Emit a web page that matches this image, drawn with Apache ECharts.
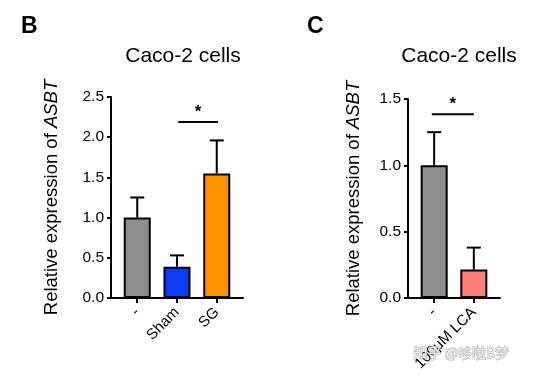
<!DOCTYPE html>
<html>
<head>
<meta charset="utf-8">
<script src="https://cdn.jsdelivr.net/npm/echarts@6/dist/echarts.min.js"></script>
<style>
  html, body { margin: 0; padding: 0; background: #fff; }
  #chart { width: 541px; height: 376px; }
</style>
</head>
<body>
<div id="chart"></div>
<script>
// panel B
const catsB = ['-', 'Sham', 'SG'];
const meanB = [1.0, 0.39, 1.55];
const errB = [0.25, 0.14, 0.41];
const sigB = [1.03, 2.03, 2.19]; // from, to, height
const ticksB = [0, 0.5, 1.0, 1.5, 2.0, 2.5];

// panel C
const catsC = ['-', '100μM LCA'];
const meanC = [1.0, 0.215];
const errC = [0.25, 0.165];
const sigC = [-0.06, 1.0, 1.385];
const ticksC = [0, 0.5, 1.0, 1.5];

const colorsB = ['#8e8e8e', '#0a3cf5', '#ff9300'];
const colorsC = ['#8e8e8e', '#ff7e79'];

const FONT = 'Liberation Sans';
const chart = echarts.init(document.getElementById('chart'), null, { renderer: 'canvas' });

function errRender(params, api) {
    const x = api.value(0), m = api.value(1), e = api.value(2);
    const base = api.coord([x, m]);
    const top = api.coord([x, m + e]);
    const style = { stroke: '#000', lineWidth: 2 };
    return {
        type: 'group',
        children: [
            { type: 'line', shape: { x1: base[0], y1: base[1], x2: top[0], y2: top[1] }, style },
            { type: 'line', shape: { x1: top[0] - 7, y1: top[1], x2: top[0] + 7, y2: top[1] }, style }
        ]
    };
}

function sigRender(params, api) {
    const a = api.coord([api.value(0), api.value(2)]);
    const b = api.coord([api.value(1), api.value(2)]);
    return {
        type: 'group',
        children: [
            { type: 'line', shape: { x1: a[0], y1: a[1], x2: b[0], y2: b[1] }, style: { stroke: '#000', lineWidth: 2 } },
            { type: 'text', x: (a[0] + b[0]) / 2, y: a[1] - 1,
              style: { text: '*', fontSize: 17, fontWeight: 'bold', fontFamily: FONT, fill: '#000', align: 'center', verticalAlign: 'bottom' } }
        ]
    };
}

function xAxisFor(idx, cats, max) {
    return {
        gridIndex: idx,
        type: 'value',
        min: -0.66,
        max: max,
        splitLine: { show: false },
        axisLine: { onZero: false, lineStyle: { color: '#000', width: 2 } },
        axisTick: { customValues: cats.map((c, i) => i), length: 5, lineStyle: { color: '#000', width: 2 } },
        axisLabel: {
            customValues: cats.map((c, i) => i),
            formatter: v => cats[Math.round(v)],
            rotate: 45, margin: 12,
            color: '#000', fontSize: 15, fontFamily: FONT
        }
    };
}

function yAxisFor(idx, ticks, gap) {
    return {
        gridIndex: idx,
        type: 'value',
        min: 0,
        max: ticks[ticks.length - 1],
        interval: 0.5,
        splitLine: { show: false },
        axisLine: { show: true, onZero: false, lineStyle: { color: '#000', width: 2 } },
        axisTick: { show: true, length: 4, lineStyle: { color: '#000', width: 2 } },
        axisLabel: { formatter: v => v.toFixed(1), color: '#000', fontSize: 15.5, fontFamily: FONT, margin: 7 },
        name: 'Relative expression of {i|ASBT}',
        nameLocation: 'middle',
        nameRotate: 90,
        nameGap: gap,
        nameTextStyle: {
            color: '#000', fontSize: 18.5, fontFamily: FONT,
            rich: { i: { fontStyle: 'italic', fontSize: 18.5, fontFamily: FONT, color: '#000' } }
        }
    };
}

const option = {
    animation: false,
    title: [
        { text: 'B', left: 16, top: 10, textStyle: { fontSize: 23, fontWeight: 'bold', fontFamily: FONT, color: '#000' } },
        { text: 'C', left: 302, top: 10, textStyle: { fontSize: 23, fontWeight: 'bold', fontFamily: FONT, color: '#000' } },
        { text: 'Caco-2 cells', left: 178, top: 41, textAlign: 'center', textStyle: { fontSize: 21, fontWeight: 'normal', fontFamily: FONT, color: '#000' } },
        { text: 'Caco-2 cells', left: 454, top: 41, textAlign: 'center', textStyle: { fontSize: 21, fontWeight: 'normal', fontFamily: FONT, color: '#000' } }
    ],
    grid: [
        { left: 111, top: 97, width: 132, height: 201 },
        { left: 408, top: 99, width: 92, height: 199 }
    ],
    xAxis: [xAxisFor(0, catsB, 2.66), xAxisFor(1, catsC, 1.66)],
    yAxis: [yAxisFor(0, ticksB, 50), yAxisFor(1, ticksC, 45)],
    series: [
        {
            type: 'bar', xAxisIndex: 0, yAxisIndex: 0, barWidth: 27,
            data: meanB.map((v, i) => ({ value: [i, v], itemStyle: { color: colorsB[i] } })),
            itemStyle: { borderColor: '#000', borderWidth: 2 }
        },
        {
            type: 'custom', xAxisIndex: 0, yAxisIndex: 0, renderItem: errRender,
            data: meanB.map((v, i) => [i, v, errB[i]]), z: 1
        },
        {
            type: 'custom', xAxisIndex: 0, yAxisIndex: 0, renderItem: sigRender,
            data: [sigB]
        },
        {
            type: 'bar', xAxisIndex: 1, yAxisIndex: 1, barWidth: 27,
            data: meanC.map((v, i) => ({ value: [i, v], itemStyle: { color: colorsC[i] } })),
            itemStyle: { borderColor: '#000', borderWidth: 2 }
        },
        {
            type: 'custom', xAxisIndex: 1, yAxisIndex: 1, renderItem: errRender,
            data: meanC.map((v, i) => [i, v, errC[i]]), z: 1
        },
        {
            type: 'custom', xAxisIndex: 1, yAxisIndex: 1, renderItem: sigRender,
            data: [sigC]
        }
    ],
    graphic: [
        {
            type: 'text', left: 413, top: 345, z: 100,
            style: { text: '知乎 @哆啦B梦', fontSize: 14, fontFamily: 'Noto Sans CJK SC', fill: 'rgba(255,255,255,0.7)', stroke: '#b5b5b5', lineWidth: 1 }
        }
    ]
};

chart.setOption(option);
</script>
</body>
</html>
